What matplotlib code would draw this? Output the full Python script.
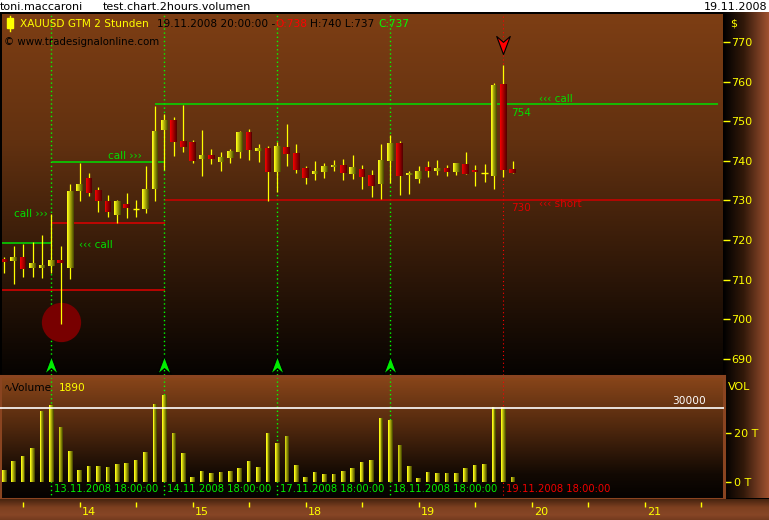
import numpy as np
import matplotlib
matplotlib.use("Agg")
import matplotlib.pyplot as plt
from matplotlib.path import Path
from matplotlib.patches import Rectangle

# ---------------- data (2-hour bars, XAUUSD) ----------------
opens = [715.2, 714.8, 715.7, 712.9, 712.9, 713.4, 715.0, 712.9, 732.4, 735.7,
         732.6, 729.8, 726.3, 729.1, 727.8, 727.8, 732.9, 747.8, 750.3, 745.0,
         744.7, 740.5, 741.5, 739.7, 740.7, 742.2, 747.3, 742.5, 743.2, 737.2,
         743.5, 742.0, 738.2, 736.7, 737.2, 738.4, 739.0, 736.7, 737.9, 736.4,
         734.1, 740.0, 744.5, 736.4, 735.4, 738.4, 737.4, 738.2, 737.2, 739.2,
         737.7, 736.9, 736.2, 759.4, 738.0]
highs = [715.7, 718.5, 719.0, 719.5, 721.3, 726.6, 718.5, 734.1, 739.4, 736.9,
         733.4, 731.4, 730.0, 731.9, 730.1, 738.7, 753.8, 751.8, 751.1, 754.1,
         745.3, 747.8, 743.0, 742.2, 743.0, 747.5, 748.0, 744.2, 743.7, 744.7,
         749.3, 744.2, 738.7, 740.0, 739.4, 740.2, 740.5, 741.5, 739.0, 737.7,
         744.2, 746.5, 745.0, 737.4, 738.7, 740.0, 740.2, 739.0, 739.4, 742.2,
         739.0, 739.2, 759.6, 764.2, 740.0]
lows = [711.7, 708.9, 710.7, 710.7, 710.4, 711.7, 698.9, 710.2, 729.8, 731.1,
        727.1, 725.8, 724.3, 725.6, 725.8, 726.8, 729.8, 737.7, 741.2, 742.2,
        739.4, 736.2, 739.2, 737.4, 739.4, 740.7, 740.2, 739.7, 729.8, 732.1,
        738.7, 736.9, 734.1, 735.2, 735.7, 737.4, 735.2, 735.4, 732.9, 730.9,
        730.4, 734.4, 731.4, 731.6, 734.4, 735.9, 736.4, 736.2, 736.4, 736.7,
        733.6, 734.6, 732.9, 735.9, 737.0]
closes = [714.5, 715.7, 712.7, 714.2, 713.7, 715.0, 714.2, 732.4, 734.1, 731.9,
          729.8, 727.1, 729.8, 728.1, 727.8, 732.9, 747.5, 750.3, 744.7, 743.5,
          740.0, 741.5, 740.5, 741.0, 742.5, 747.3, 742.7, 743.2, 737.2, 743.7,
          741.7, 737.7, 735.7, 737.4, 738.7, 739.0, 736.9, 738.4, 735.9, 733.6,
          740.2, 744.5, 736.2, 736.9, 737.4, 737.4, 738.2, 737.2, 739.4, 736.7,
          737.2, 736.9, 759.1, 737.7, 737.0]
volumes = [4860, 8500, 10500, 13800, 28700, 31200, 22300, 12600, 4860, 6500,
           6500, 6100, 7300, 7700, 8900, 12100, 31600, 35200, 19800, 11700,
           2000, 4500, 3600, 4000, 4500, 5700, 8500, 6100, 19800, 15800,
           18600, 6900, 2000, 4000, 3200, 3200, 4500, 5700, 8100, 8900,
           25900, 25100, 15000, 6500, 1600, 4000, 3600, 3600, 3600, 5700,
           6900, 7300, 30400, 30400, 1890]

price_ticks = [690, 700, 710, 720, 730, 740, 750, 760, 770]
vol_ticks = [0, 20000]
vol_tick_labels = ["0 T", "20 T"]
vol_level = 30000
day_ticks = [8, 20, 32, 44, 56, 68]
day_labels = ["14", "15", "18", "19", "20", "21"]
half_ticks = [2, 14, 26, 38, 50, 62, 74]
signal_bars = [5, 17, 29, 41]
signal_dates = ["13.11.2008 18:00:00", "14.11.2008 18:00:00",
                "17.11.2008 18:00:00", "18.11.2008 18:00:00"]
sell_bar = 53
sell_date = "19.11.2008 18:00:00"
spike_bar = 6
spike_price = 699.2
# horizontal levels: (price, start bar, end bar, colour)
level_price = [719.2, 707.4, 739.7, 724.2, 754.3, 730.0]
level_start = [-0.2, -0.2, 5.07, 5.07, 16.0, 17.07]
level_end = [5.07, 17.07, 17.07, 17.07, 75.8, 76.0]
level_color = ["#00e000", "#e00000", "#00e000", "#e00000", "#00e000", "#d00000"]

# ---------------- layout helpers ----------------
W, H = 769, 520
X0, DX = 4.3, 9.417          # pixel centre of bar 0, pixels per bar
def bx(px):
    return (px - X0) / DX
def pr(py):                  # pixel row -> price
    return 770 - (py - 42) / 3.96
def vo(py):                  # pixel row -> volume
    return (482 - py) / 74.0 * 30000

fig = plt.figure(figsize=(W / 100, H / 100), dpi=100, facecolor="black")

def add_px_axes(x0, y0, x1, y1):
    return fig.add_axes([x0 / W, 1 - y1 / H, (x1 - x0) / W, (y1 - y0) / H])

def ftext(px, py, s, **kw):
    kw.setdefault("va", "center")
    kw.setdefault("ha", "left")
    kw.setdefault("fontsize", 7.6)
    return fig.text(px / W, 1 - py / H, s, **kw)

def gradient(ax, stops, horizontal=False, n=256):
    pos = np.array([p for p, _ in stops])
    cols = np.array([c for _, c in stops], dtype=float) / 255.0
    t = np.linspace(0, 1, n)
    arr = np.stack([np.interp(t, pos, cols[:, k]) for k in range(3)], axis=-1)
    if horizontal:
        img = arr[np.newaxis, :, :]
    else:
        img = arr[:, np.newaxis, :]
    ax.imshow(img, extent=[0, 1, 0, 1], transform=ax.transAxes,
              aspect="auto", zorder=0, interpolation="bilinear")

def mix(c1, c2, t):
    return tuple((a + (b - a) * t) / 255.0 for a, b in zip(c1, c2))

YEL = "#ffff00"
GRN = "#00e000"

# ---------------- top white strip ----------------
ax_top = add_px_axes(0, 0, W, 12)
ax_top.set_facecolor("white")
ax_top.set_axis_off()
ax_top.add_patch(Rectangle((0, 0), 1, 1, transform=ax_top.transAxes, color="white"))
ftext(0, 6.5, "toni.maccaroni", fontsize=8, color="black")
ftext(103, 6.5, "test.chart.2hours.volumen", fontsize=8, color="black")
ftext(767, 6.5, "19.11.2008", fontsize=8, color="black", ha="right")

# ---------------- price panel ----------------
n = len(opens)
x = np.arange(n)
o = np.array(opens); c = np.array(closes); hi = np.array(highs); lo = np.array(lows)

xlim = (bx(2), bx(723))
ax_p = add_px_axes(2, 14, 723, 375)
gradient(ax_p, [(0, (125, 62, 20)), (0.35, (98, 49, 16)), (0.7, (48, 24, 8)), (1, (6, 3, 1))])
ax_p.set_xlim(*xlim)
ax_p.set_ylim(pr(375), pr(14))
for s in ax_p.spines.values():
    s.set_visible(False)
ax_p.set_xticks([])
ax_p.yaxis.tick_right()
ax_p.set_yticks(price_ticks)
ax_p.set_yticklabels([str(t) for t in price_ticks])
ax_p.tick_params(axis="y", direction="out", length=5, width=1, color=YEL,
                 labelcolor=YEL, labelsize=8, pad=1)

# dotted signal lines
for b in signal_bars:
    ax_p.axvline(b, color="#00ff00", lw=1, ls=(0, (1, 2)), zorder=1)
ax_p.axvline(sell_bar, color="#ff0000", lw=0.8, ls=(0, (1, 2.5)), zorder=1)

# level lines
ax_p.hlines(level_price, level_start, level_end, colors=level_color, lw=1.1, zorder=2)

# red spike circle
ax_p.scatter([spike_bar], [spike_price], s=800, color="#780000", lw=0, zorder=2)

# wicks
ax_p.vlines(x, lo, hi, color=YEL, lw=0.9, zorder=3)
# bodies with gradient
doji = np.abs(c - o) < 0.05
up = c >= o
blo = np.minimum(o, c)
bh = np.maximum(np.abs(c - o), 0.3)
bw = 0.70
nsl = 7
for k in range(nsl):
    t = k / (nsl - 1)
    off = -bw / 2 + (k + 0.5) * bw / nsl
    ycol = mix((250, 250, 20), (80, 80, 0), t)
    rcol = mix((235, 0, 0), (90, 0, 0), t)
    cols = [ycol if u else rcol for u in up]
    sel = ~doji
    ax_p.bar(x[sel] + off, bh[sel], bottom=blo[sel], width=bw / nsl * 1.05,
             color=[cc for cc, s_ in zip(cols, sel) if s_], lw=0, zorder=4)
ax_p.hlines(o[doji], x[doji] - bw / 2, x[doji] + bw / 2, color=YEL, lw=1, zorder=4)

# arrows
up_arrow = Path([(0, 1), (0.75, -1), (0, -0.35), (-0.75, -1), (0, 1)],
                [Path.MOVETO, Path.LINETO, Path.LINETO, Path.LINETO, Path.CLOSEPOLY])
dn_arrow = Path([(0, -1), (0.75, 1), (0, 0.35), (-0.75, 1), (0, -1)],
                [Path.MOVETO, Path.LINETO, Path.LINETO, Path.LINETO, Path.CLOSEPOLY])
ax_p.plot(signal_bars, [pr(365)] * len(signal_bars), ls="none", marker=up_arrow,
          ms=13, mfc="#00ee00", mec="black", mew=0.8, zorder=6, clip_on=False)
ax_p.plot([sell_bar], [pr(45)], ls="none", marker=dn_arrow, ms=13,
          mfc="#ff0000", mec="black", mew=0.8, zorder=6, clip_on=False)

# header texts
fig.patches.append(Rectangle((7 / W, 1 - 28 / H), 6 / W, 10 / H, transform=fig.transFigure,
                             color=YEL, zorder=5))
fig.lines.append(plt.Line2D([10 / W, 10 / W], [1 - 31 / H, 1 - 16 / H],
                            transform=fig.transFigure, color=YEL, lw=1, zorder=5))
ftext(20, 24, "XAUUSD GTM 2 Stunden", color=YEL)
ftext(157, 24, "19.11.2008 20:00:00 -", color="black")
ftext(275, 24, "O:738", color="#ff0000")
ftext(310, 24, "H:740 L:737", color="black")
ftext(378, 24, "C:737", color="#00ff00")
ftext(4, 42, "\u00a9 www.tradesignalonline.com", color="black", fontsize=7.4)

# annotations
ftext(14, 214, "call \u203a\u203a\u203a", color=GRN, fontsize=7.5)
ftext(79, 245, "\u2039\u2039\u2039 call", color=GRN, fontsize=7.5)
ftext(108, 156, "call \u203a\u203a\u203a", color=GRN, fontsize=7.5)
ftext(539, 99, "\u2039\u2039\u2039 call", color=GRN, fontsize=7.5)
ftext(511, 113, "754", color=GRN, fontsize=7.5)
ftext(511, 208, "730", color="#e00000", fontsize=7.5)
ftext(539, 204, "\u2039\u2039\u2039 short", color="#e00000", fontsize=7.5)

# ---------------- right scale strip ----------------
ax_r = add_px_axes(723, 12, W, 498)
gradient(ax_r, [(0, (0, 0, 0)), (0.45, (50, 25, 10)), (1, (160, 82, 48))], horizontal=True)
ax_r.set_axis_off()
ax_r.set_zorder(-1)
ftext(730, 23, "$", color=YEL, fontsize=8)
ftext(728, 387, "VOL", color=YEL, fontsize=8)

# ---------------- volume panel ----------------
ax_v = add_px_axes(0, 376, 724, 499)
gradient(ax_v, [(0, (138, 70, 26)), (0.4, (82, 41, 14)), (0.8, (18, 9, 3)), (1, (4, 2, 1))])
ax_v.set_xlim(bx(0), bx(724))
ax_v.set_ylim(vo(499), vo(376))
for s in ax_v.spines.values():
    s.set_color("#8a4420")
    s.set_linewidth(2.2)
ax_v.set_xticks([])
ax_v.yaxis.tick_right()
ax_v.set_yticks(vol_ticks)
ax_v.set_yticklabels(vol_tick_labels)
ax_v.tick_params(axis="y", direction="out", length=5, width=1, color=YEL,
                 labelcolor=YEL, labelsize=8, pad=2)

vw = 0.48
nv = 5
for k in range(nv):
    t = k / (nv - 1)
    off = -vw / 2 + (k + 0.5) * vw / nv
    ax_v.bar(x + off, volumes, width=vw / nv * 1.05, color=mix((250, 250, 20), (80, 80, 0), t),
             lw=0, zorder=3)
ax_v.axhline(vol_level, color="white", lw=1.2, zorder=4)
for b in signal_bars:
    ax_v.axvline(b, color="#00ff00", lw=1, ls=(0, (1, 2)), zorder=2)
ax_v.axvline(sell_bar, color="#ff0000", lw=0.8, ls=(0, (1, 2.5)), zorder=2)

ftext(4, 388, "\u223fVolume", color="black", fontsize=7.6)
ftext(59, 388, f"{volumes[-1]}", color=YEL, fontsize=7.6)
ftext(672, 401, f"{vol_level}", color="white", fontsize=7.6)
for b, s_ in zip(signal_bars, signal_dates):
    ftext(X0 + b * DX + 3, 489, s_, color="#00ee00", fontsize=7.2)
ftext(X0 + sell_bar * DX + 3, 489, sell_date, color="#ee0000", fontsize=7.2)

# ---------------- bottom date strip ----------------
ax_b = add_px_axes(0, 499, W, H)
gradient(ax_b, [(0, (70, 35, 15)), (0.4, (125, 64, 32)), (0.75, (135, 70, 38)), (1, (115, 58, 30))])
ax_b.set_xlim(bx(0), bx(W))
ax_b.set_ylim(0, 1)
ax_b.set_axis_off()
ax_b.vlines(day_ticks + half_ticks, 0.62, 0.86, color=YEL, lw=1)
for b, lab in zip(day_ticks, day_labels):
    ax_b.text(b + 0.25, 0.38, lab, color=YEL, fontsize=8, ha="left", va="center")

fig.savefig("out.png", dpi=100, facecolor="black")
